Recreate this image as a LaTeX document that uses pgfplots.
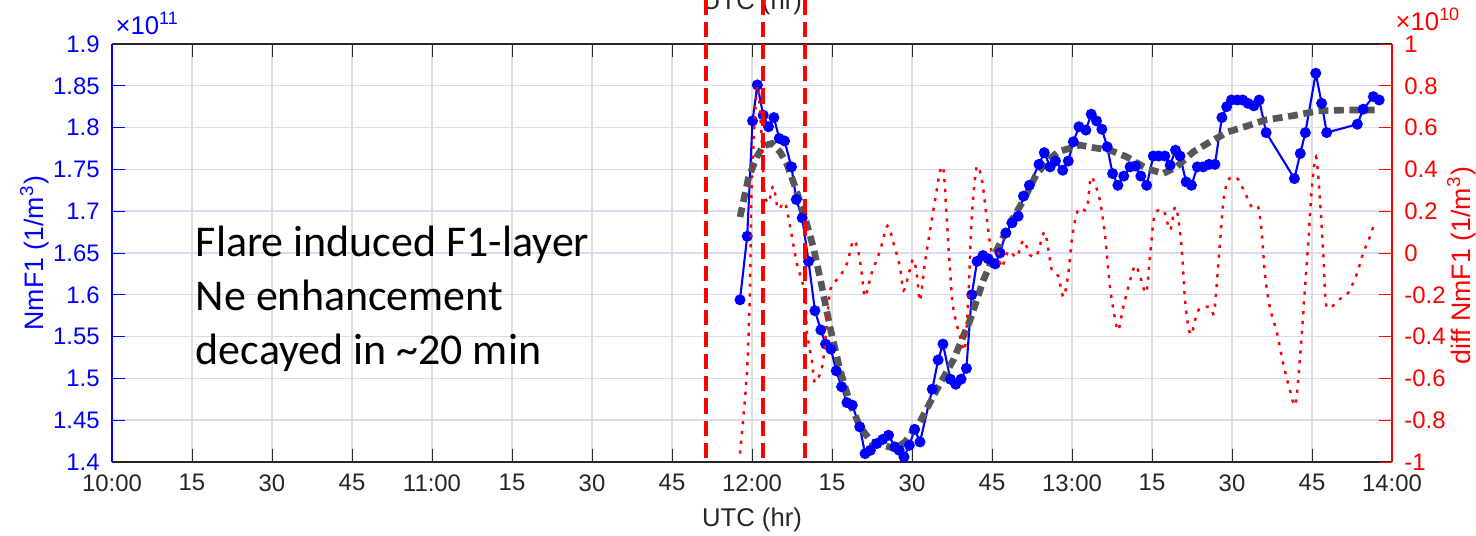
\documentclass[border=0pt]{standalone}
\usepackage{fontspec}
\setmainfont{Liberation Sans}
\newfontfamily\calibri{Carlito}
\usepackage{pgfplots}
\pgfplotsset{compat=1.18}
\definecolor{axgray}{HTML}{262626}
\definecolor{fitgray}{HTML}{575757}
\definecolor{gridblue}{HTML}{DADAF7}
\definecolor{gridgray}{HTML}{DEDEDE}

\pgfplotstableread{
t v
117.75 1.594
119.1 1.670
120.1 1.808
121.0 1.851
122.1 1.815
123.1 1.801
124.1 1.812
125.1 1.787
126.1 1.784
127.4 1.753
128.3 1.714
129.4 1.692
130.6 1.640
131.8 1.581
132.9 1.558
133.8 1.541
134.8 1.535
135.8 1.509
136.8 1.490
137.8 1.471
138.8 1.468
140.2 1.442
141.2 1.410
142.2 1.414
143.4 1.422
144.5 1.427
145.6 1.432
146.8 1.418
147.6 1.414
148.5 1.406
149.5 1.420
150.5 1.439
151.5 1.424
153.8 1.487
154.9 1.522
155.8 1.541
157.2 1.499
158.2 1.493
159.2 1.499
160.2 1.512
161.2 1.600
162.2 1.640
163.3 1.647
164.3 1.643
165.6 1.637
166.5 1.650
167.6 1.674
168.75 1.686
169.9 1.694
170.9 1.718
172.0 1.731
173.8 1.756
174.8 1.770
175.9 1.753
176.9 1.760
178.25 1.749
179.3 1.760
180.25 1.783
181.3 1.801
182.6 1.797
183.6 1.816
184.6 1.808
185.6 1.798
186.6 1.777
187.6 1.745
188.6 1.731
189.7 1.742
190.9 1.753
191.9 1.754
192.9 1.742
194.0 1.731
195.25 1.766
196.25 1.766
197.4 1.766
198.4 1.755
199.4 1.773
200.25 1.766
201.4 1.735
202.4 1.731
203.5 1.753
204.6 1.753
205.7 1.756
206.8 1.756
208.1 1.812
209.0 1.825
209.9 1.833
211.0 1.833
212.0 1.833
213.0 1.829
214.1 1.826
215.1 1.833
216.4 1.794
221.7 1.739
222.8 1.769
223.75 1.794
225.7 1.865
226.8 1.829
227.75 1.794
233.5 1.804
234.6 1.822
236.5 1.837
237.6 1.833
}\nmfone

\pgfplotstableread{
t v
117.75 1.693
119.3 1.739
120.9 1.765
122.1 1.778
123.7 1.781
125.25 1.771
126.5 1.757
128.1 1.729
129.9 1.693
131.5 1.657
133.1 1.610
134.6 1.562
136.5 1.510
138.4 1.470
140.25 1.442
142.4 1.424
144.6 1.420
146.8 1.416
148.7 1.424
151.5 1.448
154.6 1.486
157.75 1.522
160.9 1.570
163.4 1.618
165.9 1.654
168.4 1.686
170.9 1.713
173.4 1.745
175.9 1.763
177.4 1.771
181.5 1.779
184.0 1.776
187.1 1.773
190.25 1.765
194.0 1.751
197.1 1.745
199.6 1.753
202.75 1.771
205.9 1.783
209.3 1.795
212.4 1.801
216.2 1.809
221.2 1.814
226.2 1.820
231.2 1.821
236.8 1.821
}\trend

\pgfplotstableread{
t d
117.75 -0.96
119.0 -0.59
119.6 -0.19
119.9 0.29
120.6 0.68
121.1 0.80
121.7 0.60
122.3 0.30
123.1 0.24
124.0 0.32
124.9 0.21
126.2 0.24
127.4 0.09
128.4 -0.05
129.9 -0.19
130.3 -0.38
131.2 -0.51
131.8 -0.62
133.1 -0.55
133.7 -0.43
134.4 -0.23
134.9 -0.16
136.5 -0.11
137.8 -0.05
139.0 0.06
139.9 0.01
140.6 -0.10
141.2 -0.21
142.4 -0.10
144.0 0.01
145.4 0.13
146.5 0.05
147.75 -0.07
148.4 -0.18
149.3 -0.11
150.2 -0.03
150.9 -0.10
151.5 -0.23
152.4 -0.05
153.4 0.11
154.3 0.25
155.25 0.39
155.9 0.40
156.5 0.17
157.1 -0.07
157.7 -0.26
159.0 -0.40
159.9 -0.46
160.6 -0.19
161.2 0.17
162.1 0.41
163.1 0.35
164.0 0.17
164.9 0.01
166.2 0.00
166.8 -0.07
168.1 0.01
169.6 -0.02
170.9 0.06
172.1 -0.01
173.4 -0.01
174.8 0.10
175.6 0.01
176.2 -0.08
177.4 -0.11
178.4 -0.21
179.3 -0.10
180.1 0.09
181.2 0.21
182.75 0.21
183.5 0.36
184.3 0.33
185.25 0.25
186.2 0.08
187.1 -0.16
188.1 -0.32
188.7 -0.37
189.6 -0.26
190.6 -0.16
191.8 -0.06
192.75 -0.11
193.9 -0.19
194.6 -0.02
195.4 0.17
196.5 0.21
197.4 0.19
198.4 0.11
199.3 0.22
199.9 0.17
200.6 0.01
201.2 -0.23
201.8 -0.35
202.4 -0.39
203.4 -0.29
204.3 -0.26
205.9 -0.26
206.6 -0.29
207.1 -0.16
207.75 0.05
208.4 0.25
209.3 0.35
210.9 0.36
212.4 0.29
213.7 0.22
214.9 0.22
215.6 0.09
216.2 -0.11
217.1 -0.26
218.4 -0.38
219.6 -0.53
220.9 -0.66
221.8 -0.73
222.4 -0.61
223.1 -0.38
223.7 -0.16
224.3 0.05
224.9 0.29
225.75 0.46
226.5 0.25
227.1 0.00
227.6 -0.24
228.5 -0.26
230.25 -0.22
231.8 -0.19
233.4 -0.10
234.6 0.00
235.9 0.08
236.8 0.15
}\diffnm

\begin{document}
\begin{tikzpicture}
\pgfplotsset{
  every axis/.append style={
    scale only axis, width=128mm, height=41.8mm,
    xmin=0, xmax=240, scaled ticks=false, clip=false,
    /pgf/number format/assume math mode=true,
    tick align=inside, major tick length=1.3mm,
    tick label style={font=\fontsize{6.8}{8}\selectfont},
    label style={font=\fontsize{7.6}{9}\selectfont},
  }
}
\begin{axis}[name=ax,
  ymin=1.4, ymax=1.9,
  axis x line*=box, axis y line*=left,
  xtick={0,15,30,45,60,75,90,105,120,135,150,165,180,195,210,225,240},
  xticklabels={10:00,15,30,45,11:00,15,30,45,12:00,15,30,45,13:00,15,30,45,14:00},
  ytick={1.4,1.45,1.5,1.55,1.6,1.65,1.7,1.75,1.8,1.85,1.9},
  xmajorgrids, ymajorgrids,
  x grid style={gridgray, line width=0.4pt},
  y grid style={gridblue, line width=0.4pt},
  x axis line style={axgray, line width=0.5pt},
  y axis line style={blue, line width=0.5pt},
  x tick style={axgray}, y tick style={blue},
  xticklabel style={axgray},
  yticklabel style={blue},
  xlabel={UTC (hr)},
  xlabel style={axgray, font=\fontsize{7.3}{9}\selectfont, at={(axis description cs:0.5,0)}, anchor=base, yshift=-6.5mm},
  ylabel={NmF1 (1/m\textsuperscript{3})},
  ylabel style={blue, at={([xshift=-6.9mm]axis description cs:0,0.5)}, anchor=base},
]
\addplot[blue, line width=0.6pt, mark=*, mark size=1.25pt, mark options={blue}] table[x=t, y=v] {\nmfone};
\addplot[fitgray, line width=1.9pt, dash pattern=on 2.8pt off 1.6pt] table[x=t, y=v] {\trend};
\node[anchor=north west, inner sep=0pt, align=left, font=\calibri\fontsize{12.5}{15.4}\selectfont]
  at (axis cs:15.6,1.6835) {Flare induced F1-layer\\Ne enhancement\\decayed in \textasciitilde20 min};
\node[blue, anchor=base west, inner sep=0pt, font=\fontsize{7.3}{8}\selectfont]
  at ([xshift=0.3mm, yshift=0.9mm]axis description cs:0,1) {×10\textsuperscript{11}};
\node[axgray, anchor=base, inner sep=0pt, font=\fontsize{7.3}{9}\selectfont]
  at ([yshift=3.4mm]axis description cs:0.5,1) {UTC (hr)};
\end{axis}
\begin{axis}[
  ymin=-1, ymax=1,
  axis x line=none, axis y line*=right,
  ytick={-1,-0.8,-0.6,-0.4,-0.2,0,0.2,0.4,0.6,0.8,1},
  y axis line style={red, line width=0.5pt},
  y tick style={red},
  yticklabel style={red},
  ylabel={diff NmF1 (1/m\textsuperscript{3})},
  ylabel style={red, at={([xshift=7.8mm]axis description cs:1,0.47)}, anchor=base, rotate=0},
]
\addplot[red, line width=0.7pt, dash pattern=on 0.9pt off 1.9pt, smooth] table[x=t, y=d] {\diffnm};
\addplot[red, line width=1.15pt, dash pattern=on 4.3pt off 2pt] coordinates {(111.4,-0.98) (111.4,1.25)};
\addplot[red, line width=1.15pt, dash pattern=on 4.3pt off 2pt] coordinates {(122.1,-0.98) (122.1,1.25)};
\addplot[red, line width=1.15pt, dash pattern=on 4.3pt off 2pt] coordinates {(129.9,-0.98) (129.9,1.25)};
\node[red, anchor=base west, inner sep=0pt, font=\fontsize{7.3}{8}\selectfont]
  at ([xshift=0.3mm, yshift=1.3mm]axis description cs:1,1) {×10\textsuperscript{10}};
\end{axis}
\pgfresetboundingbox
\path[use as bounding box] ([shift={(-11.2mm,-7.4mm)}]ax.south west) rectangle ([shift={(8.4mm,4.4mm)}]ax.north east);
\end{tikzpicture}
\end{document}
